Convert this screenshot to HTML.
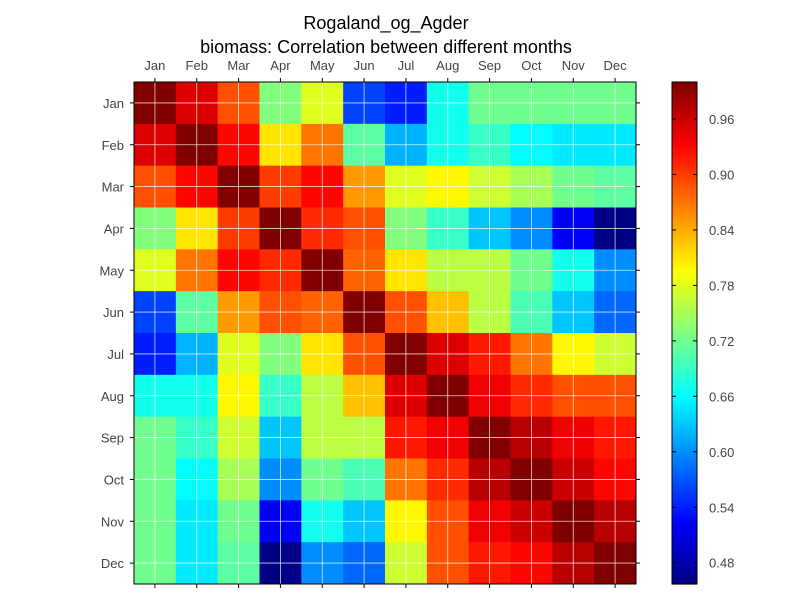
<!DOCTYPE html>
<html><head><meta charset="utf-8"><style>
body{margin:0;background:#fff;}
svg text{font-family:"Liberation Sans",sans-serif;}
</style></head><body>
<svg id="chart" width="800" height="600">
<rect width="800" height="600" fill="#fff"/>
<text x="386" y="29" text-anchor="middle" font-size="18">Rogaland_og_Agder</text>
<text x="386" y="53" text-anchor="middle" font-size="18">biomass: Correlation between different months</text>
<g id="cells"></g><g id="grid"></g><g id="axes"></g><g id="cbar"></g>
</svg>
<script>
const months = ["Jan","Feb","Mar","Apr","May","Jun","Jul","Aug","Sep","Oct","Nov","Dec"];
const rowJan = [1.00,0.95,0.89,0.73,0.78,0.56,0.54,0.67,0.72,0.72,0.72,0.72];
const rowFeb = [0.95,1.00,0.93,0.81,0.87,0.71,0.62,0.67,0.69,0.66,0.65,0.65];
const rowMar = [0.89,0.93,1.00,0.90,0.93,0.85,0.78,0.80,0.77,0.75,0.72,0.71];
const rowApr = [0.73,0.81,0.90,1.00,0.91,0.89,0.73,0.69,0.63,0.60,0.52,0.46];
const rowMay = [0.78,0.87,0.93,0.91,1.00,0.88,0.81,0.76,0.76,0.72,0.67,0.60];
const rowJun = [0.56,0.71,0.85,0.89,0.88,1.00,0.89,0.83,0.76,0.70,0.63,0.58];
const rowJul = [0.54,0.62,0.78,0.73,0.81,0.89,1.00,0.95,0.92,0.87,0.80,0.77];
const rowAug = [0.67,0.67,0.80,0.69,0.76,0.83,0.95,1.00,0.94,0.91,0.89,0.89];
const rowSep = [0.72,0.69,0.77,0.63,0.76,0.76,0.92,0.94,1.00,0.97,0.94,0.92];
const rowOct = [0.72,0.66,0.75,0.60,0.72,0.70,0.87,0.91,0.97,1.00,0.96,0.93];
const rowNov = [0.72,0.65,0.72,0.52,0.67,0.63,0.80,0.89,0.94,0.96,1.00,0.97];
const rowDec = [0.72,0.65,0.71,0.46,0.60,0.58,0.77,0.89,0.92,0.93,0.97,1.00];
const matrix = [rowJan,rowFeb,rowMar,rowApr,rowMay,rowJun,rowJul,rowAug,rowSep,rowOct,rowNov,rowDec];
const cbarTicks = [0.48,0.54,0.60,0.66,0.72,0.78,0.84,0.90,0.96];
const vmin = 0.457, vmax = 1.0;

const NS="http://www.w3.org/2000/svg";
const X0=134,Y0=82,W=502,H=502,n=months.length,cw=W/n,ch=H/n;
const xPos=i=>X0+i*cw, yPos=i=>Y0+i*ch;
function jet(v){let t=(v-vmin)/(vmax-vmin);t=Math.max(0,Math.min(1,t));
 const f=x=>Math.round(255*Math.max(0,Math.min(1,x)));
 const r=Math.min(4*t-1.5,-4*t+4.5),g=Math.min(4*t-0.5,-4*t+3.5),b=Math.min(4*t+0.5,-4*t+2.5);
 return `rgb(${f(r)},${f(g)},${f(b)})`;}
function mk(tag,attrs,parent,txt){const e=document.createElementNS(NS,tag);for(const k in attrs)e.setAttribute(k,attrs[k]);if(txt!==undefined)e.textContent=txt;parent.appendChild(e);return e;}
const cells=document.getElementById('cells'),grid=document.getElementById('grid'),axes=document.getElementById('axes'),cb=document.getElementById('cbar');
matrix.forEach((row,r)=>row.forEach((v,c)=>{
 const e=mk('rect',{x:xPos(c),y:yPos(r),width:cw+0.5,height:ch+0.5,fill:jet(v)},cells);
 
 
}));
months.forEach((m,i)=>{
 const cx=xPos(i)+cw/2, cy=yPos(i)+ch/2;
 mk('line',{x1:cx,y1:Y0,x2:cx,y2:Y0+H,stroke:'#fff','stroke-width':0.8,'stroke-opacity':0.8},grid);
 mk('line',{x1:X0,y1:cy,x2:X0+W,y2:cy,stroke:'#fff','stroke-width':0.8,'stroke-opacity':0.8},grid);
 mk('line',{x1:cx,y1:Y0,x2:cx,y2:Y0-4,stroke:'#000'},axes);
 mk('line',{x1:cx,y1:Y0+H,x2:cx,y2:Y0+H+4,stroke:'#000'},axes);
 mk('line',{x1:X0,y1:cy,x2:X0-4,y2:cy,stroke:'#000'},axes);
 mk('line',{x1:X0+W,y1:cy,x2:X0+W+4,y2:cy,stroke:'#000'},axes);
 const tx=mk('text',{x:cx,y:Y0-12,'text-anchor':'middle','font-size':13,fill:'#444'},axes,m);
 
 
 const ty=mk('text',{x:X0-10,y:cy+5,'text-anchor':'end','font-size':13,fill:'#444'},axes,m);
 
 
});
mk('rect',{x:X0,y:Y0,width:W,height:H,fill:'none',stroke:'#000'},axes);
// colorbar
const CX=672,CW=25,CY0=82,CH=502;
const cyv=v=>CY0+CH*(vmax-v)/(vmax-vmin);
for(let k=0;k<200;k++){const v=vmin+(vmax-vmin)*(k+0.5)/200;
 mk('rect',{x:CX,y:CY0+CH*(199-k)/200,width:CW,height:CH/200+0.6,fill:jet(v)},cb);}
mk('rect',{x:CX,y:CY0,width:CW,height:CH,fill:'none',stroke:'#000'},cb);
cbarTicks.forEach(v=>{const y=cyv(v);
 mk('line',{x1:CX,y1:y,x2:CX+4,y2:y,stroke:'#000'},cb);
 mk('line',{x1:CX+CW,y1:y,x2:CX+CW-4,y2:y,stroke:'#000'},cb);
 const t=mk('text',{x:CX+CW+12,y:y+5,'font-size':13,fill:'#444'},cb,v.toFixed(2));
 
 
});
</script>
</body></html>
